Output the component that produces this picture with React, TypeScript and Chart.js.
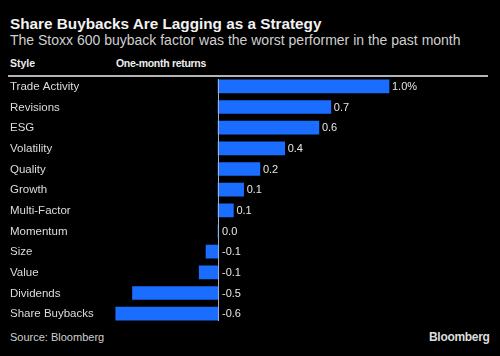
import React, { useEffect, useRef } from "react";
import { Chart, registerables } from "chart.js";

Chart.register(...registerables);

const categories = [
  "Trade Activity",
  "Revisions",
  "ESG",
  "Volatility",
  "Quality",
  "Growth",
  "Multi-Factor",
  "Momentum",
  "Size",
  "Value",
  "Dividends",
  "Share Buybacks",
];
const returns = [1.0, 0.66, 0.59, 0.39, 0.245, 0.15, 0.09, 0.0, -0.07, -0.11, -0.5, -0.6];
const valueLabels = ["1.0%", "0.7", "0.6", "0.4", "0.2", "0.1", "0.1", "0.0", "-0.1", "-0.1", "-0.5", "-0.6"];

const FONT = "'Liberation Sans', Arial, Helvetica, sans-serif";
const BLUE = "#1a6dff";

const labelPlugin = {
  id: "valueLabels",
  afterDatasetsDraw(chart: any) {
    const ctx = chart.ctx;
    const xScale = chart.scales.x;
    const area = chart.chartArea;
    const zero = Math.round(xScale.getPixelForValue(0)) + 0.5;
    ctx.save();
    ctx.strokeStyle = "#9fb0c8";
    ctx.lineWidth = 1;
    ctx.beginPath();
    ctx.moveTo(zero, area.top + 3);
    ctx.lineTo(zero, area.bottom - 3);
    ctx.stroke();
    const meta = chart.getDatasetMeta(0);
    ctx.textBaseline = "middle";
    ctx.textAlign = "left";
    meta.data.forEach((bar: any, i: number) => {
      const v = returns[i];
      ctx.font = `11px ${FONT}`;
      ctx.fillStyle = "#e6e6e6";
      const x = v > 0 ? bar.x + 3 : zero + 3.5;
      ctx.fillText(valueLabels[i], x, bar.y + 0.5);
      ctx.font = `11.5px ${FONT}`;
      ctx.fillStyle = "#dcdcdc";
      ctx.fillText(categories[i], 10, bar.y + 0.5);
    });
    ctx.restore();
  },
};

export default function App() {
  const ref = useRef<HTMLCanvasElement>(null);
  useEffect(() => {
    if (!ref.current) return;
    const chart = new Chart(ref.current, {
      type: "bar",
      data: {
        labels: categories,
        datasets: [
          {
            data: returns,
            backgroundColor: BLUE,
            borderWidth: 0,
            barThickness: 13,
          },
        ],
      },
      options: {
        indexAxis: "y",
        responsive: false,
        animation: false,
        devicePixelRatio: 1,
        layout: { padding: { left: 115.4, right: 8.4, top: 0, bottom: 0 } },
        plugins: {
          legend: { display: false },
          tooltip: { enabled: false },
        },
        scales: {
          x: { display: false, min: -0.6, max: 1.6 },
          y: { display: false },
        },
      },
      plugins: [labelPlugin],
    } as any);
    return () => chart.destroy();
  }, []);

  const base: React.CSSProperties = { position: "absolute", fontFamily: FONT, whiteSpace: "nowrap", margin: 0 };
  return (
    <div style={{ position: "fixed", left: 0, top: 0, width: 500, height: 356, background: "#000", overflow: "hidden" }}>
      <div style={{ ...base, left: 10, top: 15, fontSize: 15.3, fontWeight: "bold", color: "#f2f2f2" }}>
        Share Buybacks Are Lagging as a Strategy
      </div>
      <div style={{ ...base, left: 10, top: 32, fontSize: 14, color: "#cfcfcf" }}>
        The Stoxx 600 buyback factor was the worst performer in the past month
      </div>
      <div style={{ ...base, left: 10, top: 57, fontSize: 10.5, fontWeight: "bold", color: "#eeeeee" }}>Style</div>
      <div style={{ ...base, left: 116, top: 57, fontSize: 10.5, fontWeight: "bold", color: "#eeeeee", letterSpacing: -0.3 }}>
        One-month returns
      </div>
      <div style={{ position: "absolute", left: 8, top: 75, width: 480, height: 1.5, background: "#b4b4b4" }} />
      <canvas ref={ref} width={500} height={248} style={{ position: "absolute", left: 0, top: 76, width: 500, height: 248 }} />
      <div style={{ ...base, left: 10, top: 331, fontSize: 11, color: "#cfcfcf" }}>Source: Bloomberg</div>
      <div style={{ ...base, left: 429, top: 330, fontSize: 12, fontWeight: "bold", color: "#dddddd", letterSpacing: -0.3 }}>
        Bloomberg
      </div>
    </div>
  );
}
